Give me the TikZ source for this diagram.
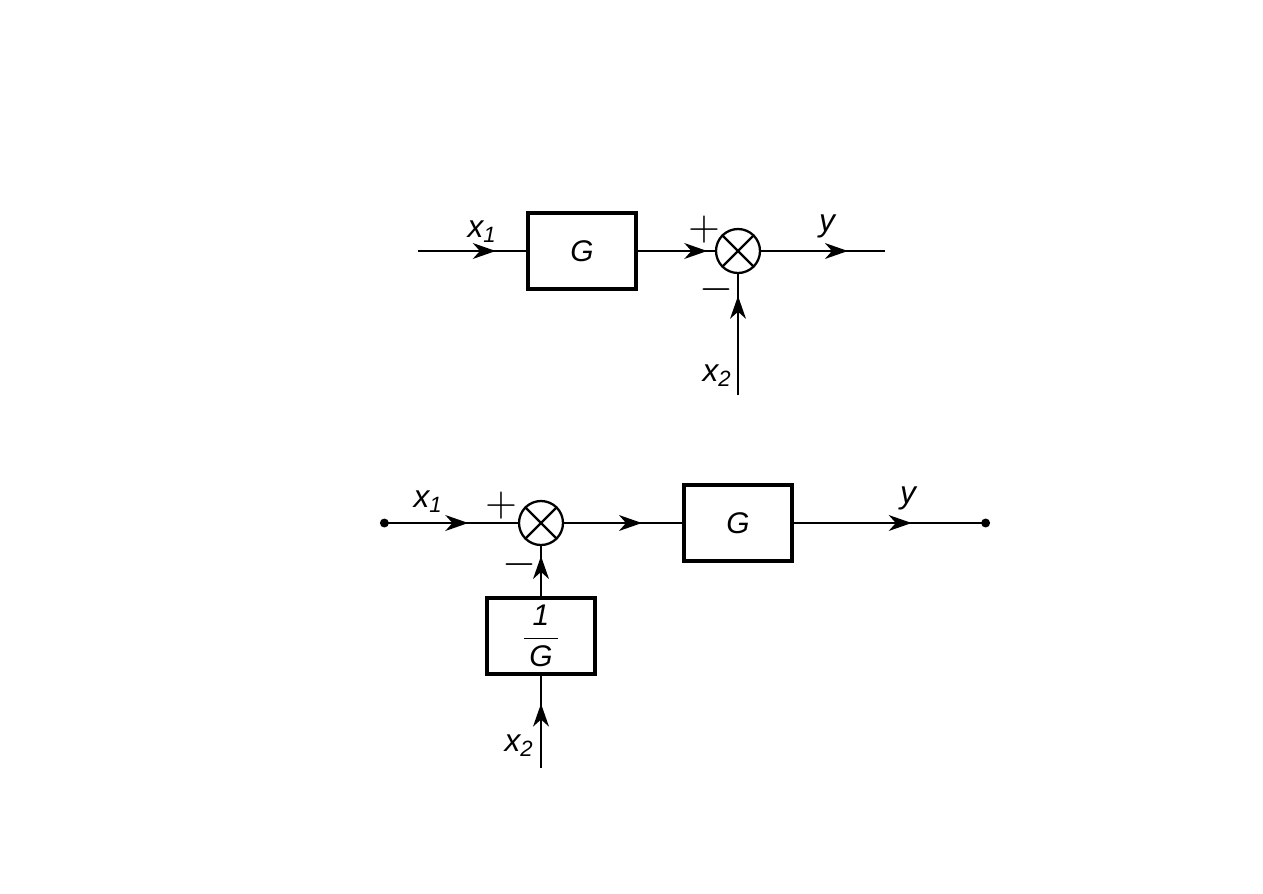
\documentclass[tikz,border=0pt]{standalone}
\usepackage{amsmath}
\usepackage{fontspec}
\setmainfont{Liberation Sans}
\usetikzlibrary{arrows.meta,decorations.markings}
\newcommand{\xin}[1]{\textit{x}\textsubscript{\itshape #1}}
\tikzset{
  blk/.style={draw, line width=2.4pt, minimum width=2.16cm, minimum height=1.52cm, font=\fontsize{17}{19}\selectfont\itshape},
  sumpt/.style={draw, circle, line width=1.3pt, minimum size=0.88cm, inner sep=0pt},
  sig/.style={line width=1.3pt, postaction={decorate}, decoration={markings,
      mark=at position #1 with {\arrow{Stealth[length=13pt,width=9pt,inset=4pt]}}}},
  lbl/.style={font=\fontsize{18}{20}\selectfont\itshape},
  sgn/.style={font=\fontsize{26}{28}\selectfont}
}
\begin{document}
\begin{tikzpicture}[x=0.02cm, y=-0.02cm]
  \useasboundingbox (0,0) rectangle (1263,893);
  % upper scheme
  \coordinate (in1) at (418,251); \coordinate (out1) at (885,251);
  \coordinate (xa) at (738,395);
  \node[blk] (g1) at (582,251) {G};
  \node[sumpt] (s1) at (738,251) {};
  \draw[line width=1.3pt] (s1.north west)--(s1.south east) (s1.north east)--(s1.south west);
  \draw[sig=0.72] (in1) -- (g1.west);
  \draw[sig=0.9] (g1.east) -- (s1.west);
  \draw[sig=0.7] (s1.east) -- (out1);
  \draw[sig=0.82] (xa) -- (s1.south);
  \node[lbl] (l1) at (482,232) {\xin{1}};
  \node[lbl] (l2) at (827,226) {y};
  \node[lbl] (l3) at (717,376) {\xin{2}};
  \node[sgn] (p1) at (704,230) {$+$};
  \node[sgn] (m1) at (716,290) {$-$};
  % lower scheme
  \coordinate (in2) at (380,523); \coordinate (out2) at (990,523);
  \coordinate (xb) at (541,768);
  \node[sumpt] (s2) at (541,523) {};
  \draw[line width=1.3pt] (s2.north west)--(s2.south east) (s2.north east)--(s2.south west);
  \node[blk] (g2) at (738,523) {G};
  \node[blk] (g3) at (541,636) {$\genfrac{}{}{1pt}{0}{\,\textit{1}\,}{\,\textit{G}\,}$};
  \draw[sig=0.64, {Circle[length=5pt]}-] (in2) -- (s2.west);
  \draw[sig=0.66] (s2.east) -- (g2.west);
  \draw[sig=0.6, -{Circle[length=5pt]}] (g2.east) -- (out2);
  \draw[sig=0.8] (g3.north) -- (s2.south);
  \draw[sig=0.7] (xb) -- (g3.south);
  \node[lbl] (l4) at (428,502) {\xin{1}};
  \node[lbl] (l5) at (908,498) {y};
  \node[lbl] (l6) at (519,746) {\xin{2}};
  \node[sgn] (p2) at (501,506) {$+$};
  \node[sgn] (m2) at (519,565) {$-$};
\end{tikzpicture}
\end{document}
